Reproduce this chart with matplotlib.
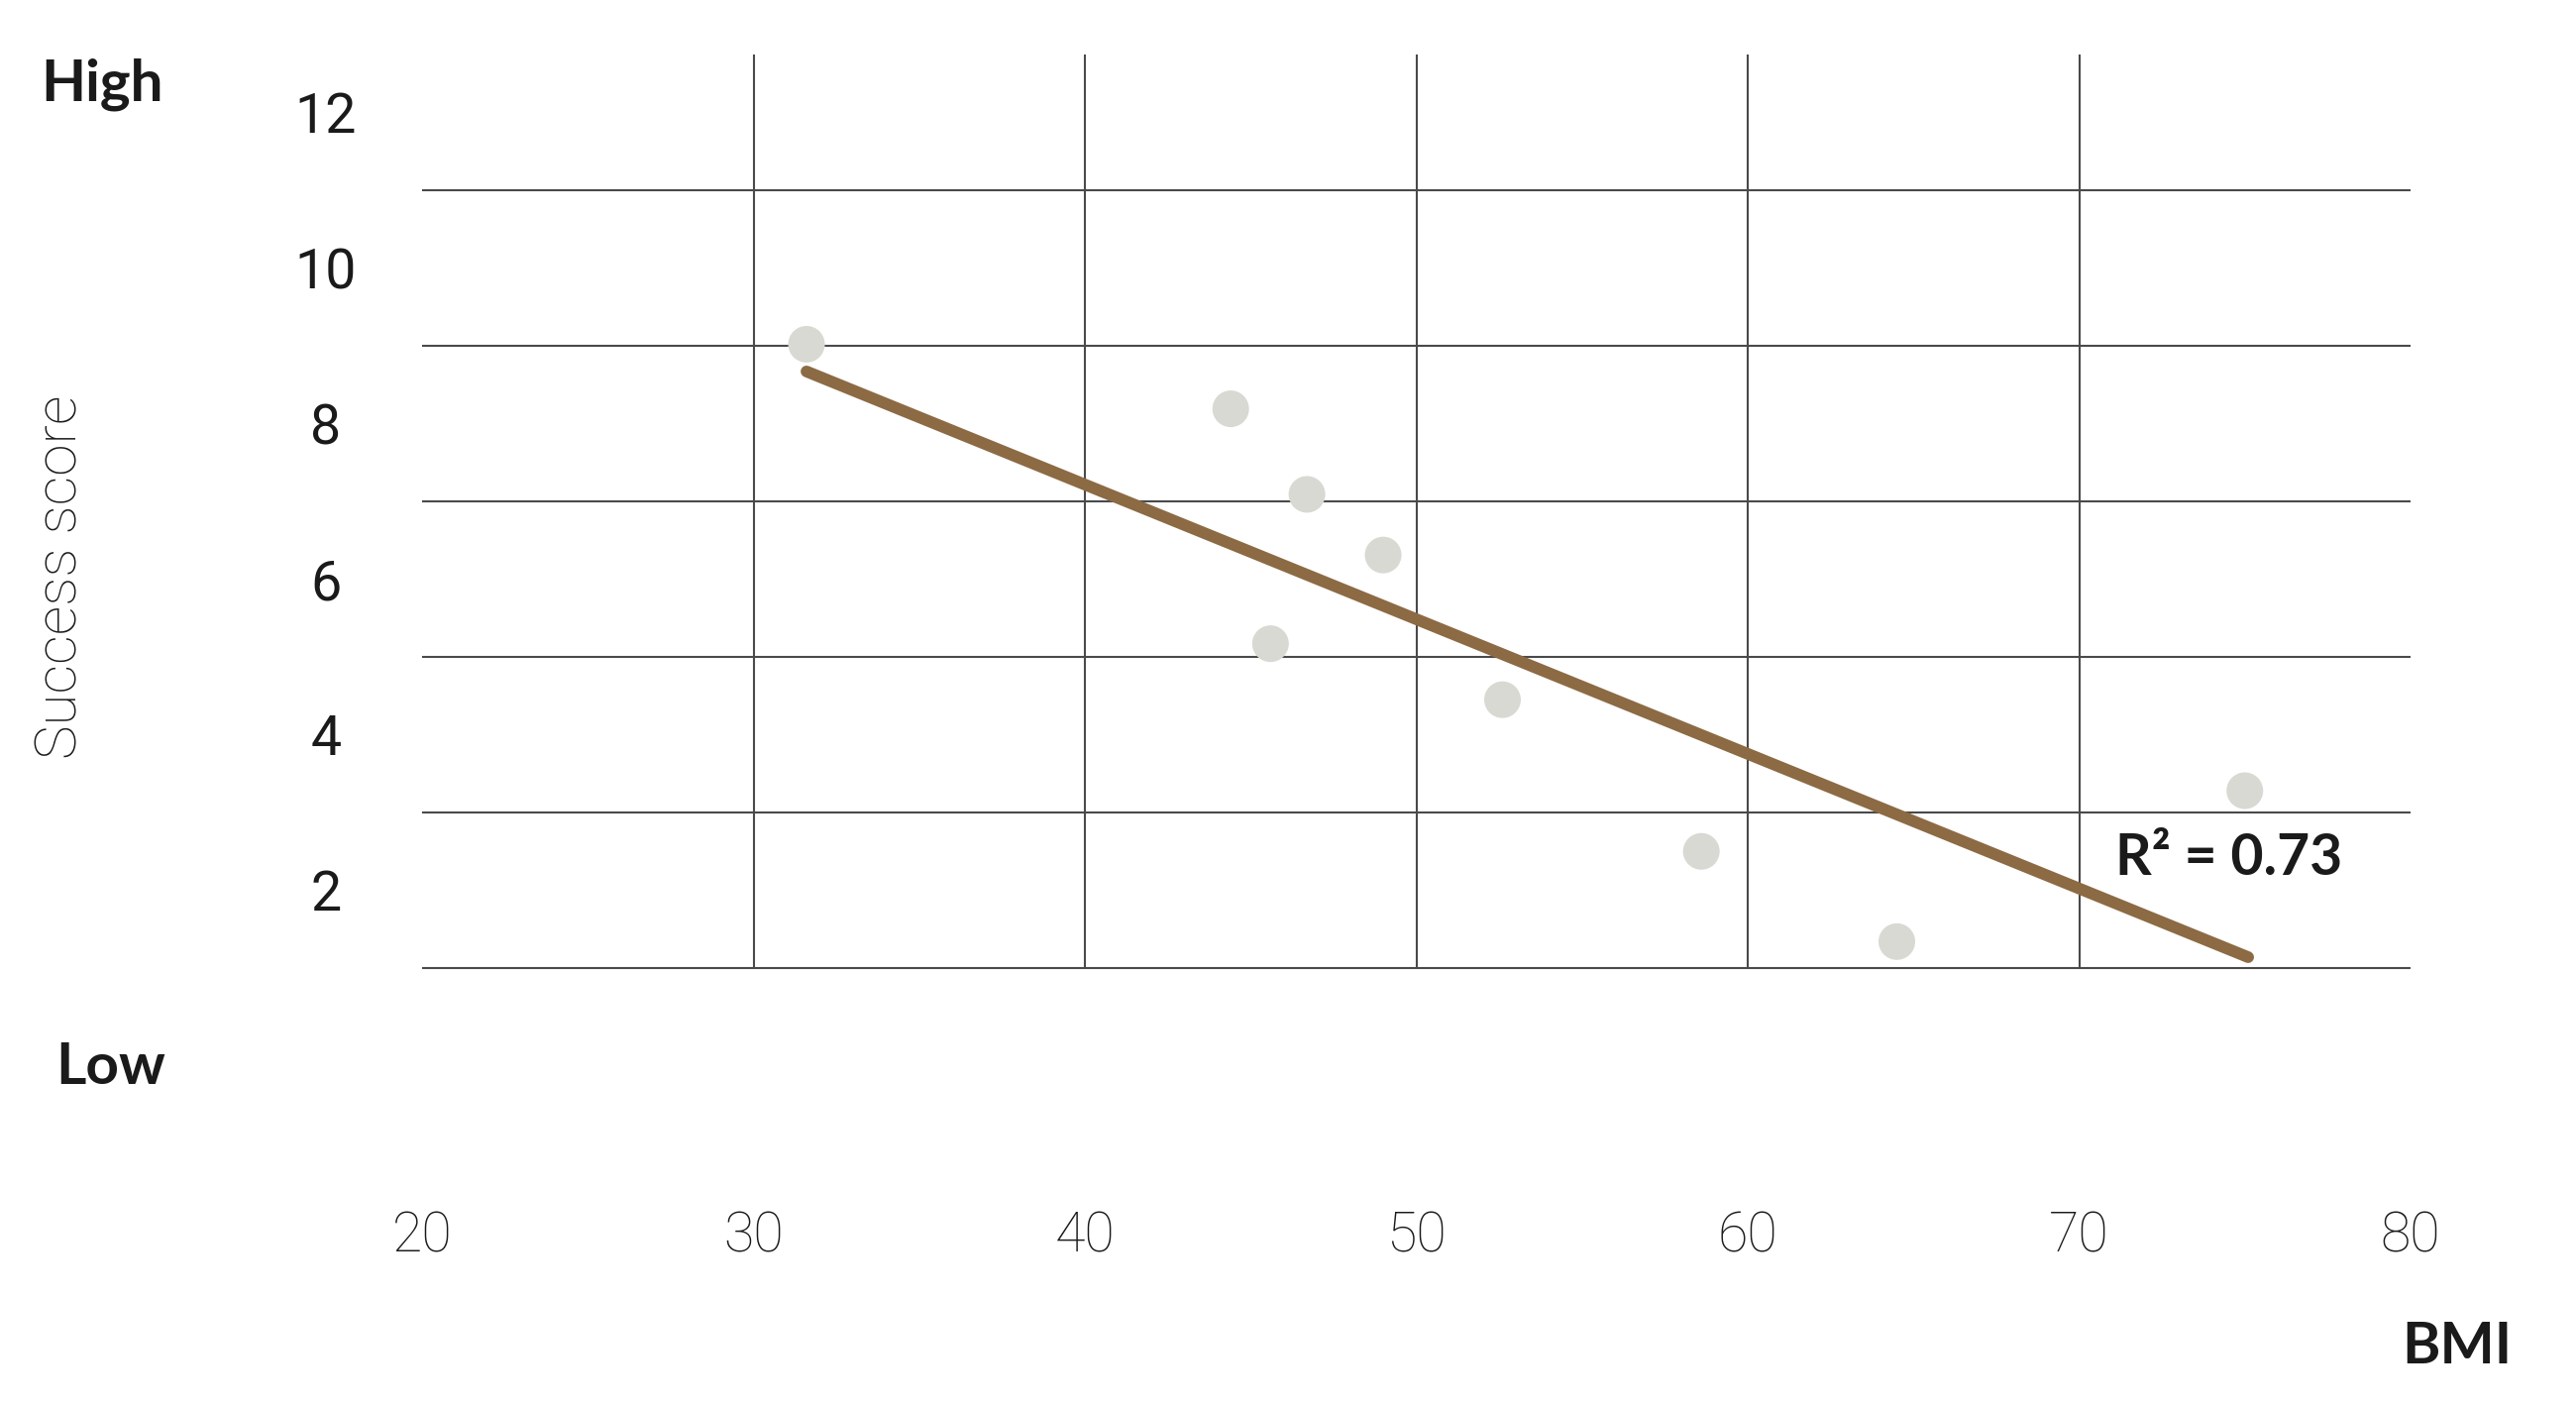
import matplotlib
matplotlib.use("Agg")
import matplotlib.pyplot as plt

# ---- data ----
bmi = [31.6, 44.4, 46.7, 49.0, 45.6, 52.6, 58.6, 64.5, 75.0]
score = [9.02, 8.19, 7.09, 6.31, 5.17, 4.45, 2.50, 1.34, 3.28]
trend_x = [31.6, 75.1]
trend_y = [8.67, 1.14]
r2_text = "R² = 0.73"

x_ticks = [20, 30, 40, 50, 60, 70, 80]
x_ticklabels = ["20", "30", "40", "50", "60", "70", "80"]
y_ticks = [2, 4, 6, 8, 10, 12]
y_ticklabels = ["2", "4", "6", "8", "10", "12"]
h_grid = [1, 3, 5, 7, 9, 11]
v_grid = [30, 40, 50, 60, 70]

FAM = ["Lato", "DejaVu Sans"]
LIGHT = ["Roboto", "DejaVu Sans"]
TXT = "#1a1a1a"
GRID = "#4a4a4a"
DOT = "#d9d9d3"
LINE = "#8c6a44"

W, H = 2600, 1418
fig = plt.figure(figsize=(W / 100, H / 100), dpi=100)
fig.patch.set_facecolor("white")

left, right, bottom, top = 426, 2433, 977, 55
ax = fig.add_axes([left / W, 1 - bottom / H, (right - left) / W, (bottom - top) / H])
ax.set_xlim(20, 80)
ax.set_ylim(1, 12.745)
for s in ax.spines.values():
    s.set_visible(False)
ax.set_facecolor("none")

ax.hlines(h_grid, 20, 80, colors=GRID, linewidth=1.5, clip_on=False, zorder=1)
ax.vlines(v_grid, 1, 12.745, colors=GRID, linewidth=1.5, clip_on=False, zorder=1)

ax.scatter(bmi, score, s=710, color=DOT, edgecolors="none", zorder=3, clip_on=False)
ax.plot(trend_x, trend_y, color=LINE, linewidth=8.5, solid_capstyle="round", zorder=4)

ax.set_xticks(x_ticks)
ax.set_xticklabels(x_ticklabels, fontsize=40, family=LIGHT, fontweight="light", color=TXT)
ax.set_yticks(y_ticks)
ax.set_yticklabels(y_ticklabels, fontsize=40, family=LIGHT, fontweight="normal", color=TXT,
                   ha="center")
ax.tick_params(axis="x", length=0, pad=176)
ax.tick_params(axis="y", length=0, pad=70)

ax.text(71.1, 2.2, r2_text, fontsize=41, family=FAM, fontweight="bold", color=TXT,
        ha="left", va="baseline", zorder=5)

fig.text(41 / W, 1 - 102 / H, "High", fontsize=42, family=FAM, fontweight="bold",
         color=TXT, ha="left", va="baseline")
fig.text(56 / W, 1 - 1094 / H, "Low", fontsize=42, family=FAM, fontweight="bold",
         color=TXT, ha="left", va="baseline")
fig.text(2535 / W, 1 - 1376 / H, "BMI", fontsize=42, family=FAM, fontweight="bold",
         color=TXT, ha="right", va="baseline")
fig.text(62 / W, 1 - 582 / H, "Success score", fontsize=42, family=LIGHT,
         fontweight="light", color=TXT, rotation=90, ha="center", va="center")

fig.savefig("out.png", dpi=100, facecolor="white")
